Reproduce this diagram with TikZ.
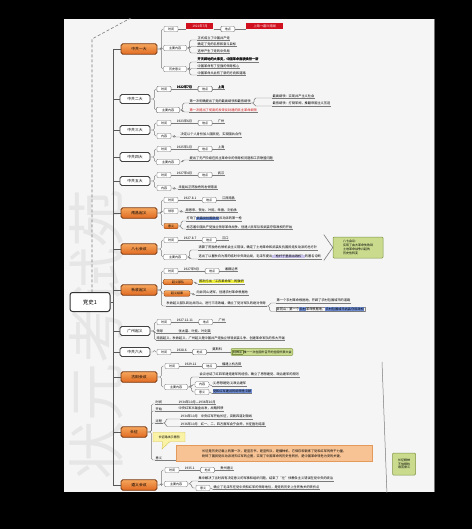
\documentclass[tikz,border=0pt]{standalone}
\usepackage{fontspec}
\newfontfamily\cjk{Noto Sans CJK SC}
\usetikzlibrary{positioning,calc,shapes.callouts}
\definecolor{pagec}{HTML}{F5F5F5}
\definecolor{linec}{HTML}{7A7A7A}
\definecolor{orangeT}{HTML}{F6A65C}
\definecolor{orangeB}{HTML}{E06A22}
\definecolor{orangeD}{HTML}{7A3A12}
\definecolor{redF}{HTML}{D0101E}
\definecolor{greenF}{HTML}{CADB8E}
\definecolor{greenD}{HTML}{7D9440}
\definecolor{hlyellow}{HTML}{EEEE3C}
\definecolor{hlblue}{HTML}{7090DA}
\definecolor{hlpurple}{HTML}{C9C2EE}
\definecolor{oboxF}{HTML}{F7C394}
\definecolor{oboxD}{HTML}{E39A5A}
\definecolor{callF}{HTML}{FAF3A6}
\definecolor{callD}{HTML}{D6C55A}
\definecolor{wmc}{HTML}{E6E6E6}
\definecolor{redtxt}{HTML}{D01010}
\newcommand\markblue[1]{{\setlength{\fboxsep}{0.3pt}\colorbox{hlblue}{#1}}}
\newcommand\markyellow[1]{{\setlength{\fboxsep}{0.3pt}\colorbox{hlyellow}{#1}}}
\newcommand\markpurple[1]{{\setlength{\fboxsep}{0.3pt}\colorbox{hlpurple}{#1}}}
\tikzset{
 conn/.style={draw=linec, line width=0.45pt, rounded corners=1.5pt},
 trunk/.style={draw=black!65, line width=0.9pt},
 root/.style={draw=black!80, line width=1pt, rounded corners=2.5pt, fill=white, minimum width=40pt, minimum height=19pt, font=\cjk\fontsize{5.5}{6}\selectfont},
 lone/.style={draw=black!75, line width=0.8pt, rounded corners=1.8pt, fill=white, minimum width=30pt, minimum height=9pt, inner sep=0.5pt, font=\cjk\fontsize{3.8}{4.2}\selectfont},
 lor/.style={draw=orangeD, line width=0.8pt, rounded corners=1.8pt, top color=orangeT, bottom color=orangeB, minimum width=36pt, minimum height=10.5pt, inner sep=0.5pt, font=\cjk\fontsize{3.8}{4.2}\selectfont},
 tag/.style={draw=black!55, line width=0.4pt, rounded corners=1.2pt, fill=white, minimum width=14pt, minimum height=5.5pt, inner sep=0.6pt, font=\cjk\fontsize{3}{3.4}\selectfont},
 otag/.style={tag, draw=orangeD, top color=orangeT, bottom color=orangeB},
 lf/.style={anchor=south west, inner sep=0.5pt, append after command={(\tikzlastnode.south west) edge[draw=linec, line width=0.45pt] (\tikzlastnode.south east)}},
 redb/.style={anchor=south west, fill=redF, text=white, inner sep=0.8pt, minimum height=6pt},
 greenb/.style={draw=greenD, line width=0.5pt, fill=greenF, rounded corners=1pt, inner sep=1.2pt, font=\cjk\fontsize{3}{3.8}\selectfont},
}
\newcommand\TimeRow[5]{%
 \node[tag] (#1a) at (#2,#3) {时间};
 \node[lf] (#1b) at ([xshift=5pt]#1a.east) {#4};
 \node[tag, anchor=west] (#1c) at ([xshift=5pt]#1b.south east) {地点};
 \node[lf] (#1d) at ([xshift=5pt]#1c.east) {#5};
 \draw[conn] (#1a.east) -- (#1b.south west) (#1b.south east) -- (#1c.west) (#1c.east) -- (#1d.south west);
}
\newcommand\Br[2]{\draw[conn] (#1.east) -- ++(4,0) |- (#2.west);}
\newcommand\BrP[2]{\draw[conn] (#1.east) -- ++(4,0) |- (#2.south west);}
\newcommand\BrL[2]{\draw[conn] (#1.east) -- ++(3,0) |- (#2.south west);}
\newcommand\BrS[2]{\draw[conn] (#1.south east) -- ++(3,0) |- (#2.south west);}
\begin{document}
\begin{tikzpicture}[x=1pt, y=-1pt, font=\cjk\fontsize{3.2}{3.8}\selectfont]
\useasboundingbox (0,0) rectangle (472,529);
\fill[black] (0,0) rectangle (472,529);
\fill[pagec] (64,19) rectangle (434,492);
\begin{scope}
\clip (64,19) rectangle (434,492);
% watermark
\node[rotate=90, text=wmc, font=\cjk\fontsize{58}{58}\selectfont] (wm) at (97,334) {状元考试苑};
% dashed guide
\coordinate (dA) at (92,39);
\coordinate (dB) at (140,13);
\coordinate (dC) at (92,292);
\draw[linec, densely dashed, line width=0.6pt] (dB) -- (dA) -- (dC);
% root and trunk
\node[root] (root) at (90,302) {党史1};
\coordinate (tTop) at (113,49);
\coordinate (tBot) at (113,485);
\draw[trunk] (tTop) -- (tBot);
\draw[trunk] (root.east) -- (root.east -| tTop);
% level one
\node[lor] (b1) at (139,49) {中共一大};
\node[lone] (b2) at (135,99) {中共二大};
\node[lone] (b3) at (135,130) {中共三大};
\node[lone] (b4) at (135,157) {中共四大};
\node[lone] (b5) at (135,181) {中共五大};
\node[lor] (b6) at (139,213) {南昌起义};
\node[lor] (b7) at (139,249) {八七会议};
\node[lor] (b8) at (139,290) {秋收起义};
\node[lone] (b9) at (135,331) {广州起义};
\node[lone] (b10) at (135,352) {中共六大};
\node[lor] (b11) at (139,377) {古田会议};
\node[lor, minimum width=26pt] (b12) at (134,432) {长征};
\node[lor] (b13) at (139,485) {遵义会议};
\foreach \b in {b1,b2,b3,b4,b5,b6,b7,b8,b9,b10,b11,b12,b13} \draw[trunk] (\b.west -| tTop) -- (\b.west);
% ---- B1
\node[tag] (t11) at (171,29) {时间};
\node[tag, minimum width=23pt] (t12) at (175,48) {主要内容};
\node[tag, minimum width=23pt] (t13) at (175,69) {历史意义};
\foreach \c in {t11,t12,t13} \Br{b1}{\c}
\node[redb, minimum width=27pt] (r11) at ([xshift=8pt]t11.east) {1921年7月};
\node[tag, anchor=west] (d11) at ([xshift=7pt]r11.south east) {地点};
\node[redb, minimum width=37pt] (r12) at ([xshift=11pt]d11.east) {上海→嘉兴南湖};
\draw[conn] (t11.east) -- (r11.south west) (r11.south east) -- (d11.west) (d11.east) -- (r12.south west);
\node[lf] (l121) at (197,40) {正式成立了中国共产党};
\node[lf] (l122) at (197,46.5) {确定了党的名称和奋斗目标};
\node[lf] (l123) at (197,53) {选举产生了党的中央局};
\foreach \c in {l121,l122,l123} \BrL{t12}{\c}
\node[lf] (l131) at (197,62) {开天辟地的大事变，中国革命面貌焕然一新};
\node[lf] (l132) at (197,68.5) {中国革命有了坚强的领导核心};
\node[lf] (l133) at (197,75) {中国革命从此有了新的方向和道路};
\foreach \c in {l131,l132,l133} \BrL{t13}{\c}
% ---- B2
\TimeRow{t21}{164}{89}{1922年7月}{上海}
\node[tag, minimum width=23pt] (t22) at (168,110) {主要内容};
\Br{b2}{t21a}
\Br{b2}{t22}
\node[lf] (l221) at (189,103) {第一次明确提出了党的最高纲领和最低纲领};
\node[lf, text=redtxt] (l222) at (189,112) {第一次提出了彻底的反帝反封建的民主革命纲领};
\BrL{t22}{l221}
\BrL{t22}{l222}
\node[lf] (l2211) at (272,98) {最高纲领：实现共产主义社会};
\node[lf] (l2212) at (272,106) {最低纲领：打倒军阀，推翻帝国主义压迫};
\BrS{l221}{l2211}
\BrS{l221}{l2212}
% ---- B3
\TimeRow{t31}{164}{123}{1923年6月}{广州}
\node[tag] (t32) at (164,136) {内容};
\Br{b3}{t31a}
\Br{b3}{t32}
\node[lf] (l321) at (180,137) {决定以个人身份加入国民党，实现国共合作};
\BrL{t32}{l321}
% ---- B4
\TimeRow{t41}{164}{149}{1925年1月}{上海}
\node[tag, minimum width=23pt] (t42) at (168,162) {主要内容};
\Br{b4}{t41a}
\Br{b4}{t42}
\node[lf] (l421) at (189,160) {提出了无产阶级在民主革命中的领导权问题和工农联盟问题};
\BrL{t42}{l421}
% ---- B5
\TimeRow{t51}{164}{175}{1927年4月}{武汉}
\node[tag] (t52) at (164,188) {内容};
\Br{b5}{t51a}
\Br{b5}{t52}
\node[lf] (l521) at (178,189) {未能纠正陈独秀的右倾错误};
\BrL{t52}{l521}
% ---- B6
\TimeRow{t61}{171}{200}{1927.8.1}{江西南昌}
\node[tag] (t62) at (171,211) {领导};
\node[otag] (t63) at (171,226) {意义};
\Br{b6}{t61a}
\Br{b6}{t62}
\Br{b6}{t63}
\node[lf] (l621) at (185,212) {周恩来、贺龙、叶挺、朱德、刘伯承};
\BrL{t62}{l621}
\node[lf] (l631) at (186,221) {打响了\markblue{武装反抗国民党}反动派的第一枪};
\node[lf] (l632) at (186,229) {标志着中国共产党独立领导革命战争、创建人民军队和武装夺取政权的开始};
\BrL{t63}{l631}
\BrL{t63}{l632}
% ---- B7
\TimeRow{t71}{171}{240}{1927.8.7}{汉口}
\node[tag, minimum width=23pt] (t72) at (175,257) {主要内容};
\Br{b7}{t71a}
\Br{b7}{t72}
\node[lf] (l721) at (198,250) {清算了陈独秀右倾机会主义错误，确定了土地革命和武装反抗国民党反动派的总方针};
\node[lf] (l722) at (198,259) {选出了以瞿秋白为首的临时中央政治局，毛泽东提出\markpurple{“枪杆子里面出政权”}的著名论断};
\BrL{t72}{l721}
\BrL{t72}{l722}
\node[greenb, align=left, minimum width=50pt, minimum height=21pt] (g7) at (358,247.5) {八七会议：\\实现了由大革命失败到\\土地革命战争兴起的\\历史性转变};
\draw[linec, line width=0.6pt] ($(g7.west)+(-9,-13)$) -- (g7.west) -- ($(g7.west)+(-9,13)$);
% ---- B8
\TimeRow{t81}{171}{271}{1927年9月}{湘赣边界}
\node[otag, minimum width=29pt] (t82) at (178,282) {起义部队};
\node[otag, minimum width=26pt] (t83) at (177,293.5) {起义结果};
\Br{b8}{t81a}
\Br{b8}{t82}
\Br{b8}{t83}
\node[lf] (l821) at (198,284) {\markyellow{首次打出“工农革命军”的旗帜}};
\BrL{t82}{l821}
\node[lf] (l831) at (196,295) {向井冈山进军，创建农村革命根据地};
\BrL{t83}{l831}
\node[lf] (l84) at (166,306) {秋收起义部队到达井冈山，进行三湾改编，确立了党对军队的绝对领导};
\BrP{b8}{l84}
\node[lf] (l841) at (276,303) {第一个农村革命根据地，开辟了农村包围城市的道路};
\node[lf, draw=black!45, line width=0.35pt] (l842) at (276,311.5) {井冈山：第一个\markblue{农村}革命根据地，\markblue{农村包围城市武装夺取政权}};
\BrS{l84}{l841}
\BrS{l84}{l842}
% ---- B9
\TimeRow{t91}{164}{322}{1927.12.11}{广州}
\Br{b9}{t91a}
\node[lf] (l92) at (156,333) {领导};
\node[lf] (l92b) at (178,333) {张太雷、叶挺、叶剑英};
\draw[conn] (l92.south east) -- (l92b.south west);
\node[lf] (l93) at (156,340) {南昌起义、秋收起义、广州起义是中国共产党独立领导武装斗争、创建革命军队的伟大开端};
\BrP{b9}{l92}
\BrP{b9}{l93}
% ---- B10
\TimeRow{t101}{164}{352}{1928.6}{莫斯科}
\Br{b10}{t101a}
\node[greenb, anchor=west] (g10) at ([xshift=8pt]t101d.south east) {{\setlength{\fboxsep}{0.5pt}\fcolorbox{greenD}{greenF}{特殊点}}\ 唯一一次在国外召开的全国代表大会};
\draw[conn] (t101d.south east) -- (g10.west);
% ---- B11
\TimeRow{t111}{172}{366}{1929.12}{福建上杭古田}
\node[tag, minimum width=23pt] (t112) at (176,387) {主要内容};
\Br{b11}{t111a}
\Br{b11}{t112}
\node[lf] (l1121) at (199,377) {会议总结了红四军建党建军的经验，确立了思想建党、政治建军的原则};
\node[tag] (t1122) at (202,384.5) {内容};
\node[tag] (t1123) at (202,392) {意义};
\BrL{t112}{l1121}
\Br{t112}{t1122}
\Br{t112}{t1123}
\node[lf] (l1122) at (212,386) {(1)思想建党(2)政治建军};
\node[lf] (l1123) at (212,393.5) {\markblue{党和红军建设的纲领性文献}};
\draw[conn] (t1122.east) -- (l1122.south west);
\draw[conn] (t1123.east) -- (l1123.south west);
% ---- B12
\node[lf] (l1201) at (155,404) {时间};
\node[lf] (l1201b) at (178,404) {1934年10月—1936年10月};
\draw[conn] (l1201.south east) -- (l1201b.south west);
\node[lf] (l1202) at (155,411) {开始};
\node[lf] (l1202b) at (178,411) {中央红军从瑞金出发，战略转移};
\draw[conn] (l1202.south east) -- (l1202b.south west);
\node[lf] (l1203) at (155,423) {过程};
\node[lf] (l1203a) at (180,419) {1934年10月　中央红军开始长征，突破四道封锁线};
\node[lf] (l1203b) at (180,426.5) {1936年10月　红一、二、四方面军会宁会师，长征胜利结束};
\BrS{l1203}{l1203a}
\BrS{l1203}{l1203b}
\coordinate (clp) at (162,449);
\node[rectangle callout, callout absolute pointer={(clp)}, fill=callF, draw=callD, line width=0.4pt, minimum width=32pt, minimum height=9pt, font=\cjk\fontsize{3}{3.4}\selectfont] (cl) at (169,437) {长征路线示意图};
\node[lf] (l1204) at (155,460) {意义};
\node[draw=oboxD, fill=oboxF, line width=0.4pt, minimum width=196pt, minimum height=16pt, inner sep=1.5pt, anchor=west, align=left, font=\cjk\fontsize{3.2}{5}\selectfont] (ob) at (176,453.5) {长征是历史记载上的第一次，是宣言书，是宣传队，是播种机。它保存和锻炼了党和红军的骨干力量，\\粉碎了国民党反动派消灭红军的企图，实现了中国革命的历史性转折，是中国革命转危为安的关键。};
\draw[conn] (l1204.south east) -- (l1204.south east -| ob.west);
\foreach \c in {l1201,l1202,l1203,l1204} \BrP{b12}{\c}
\coordinate (v1) at (382,362);
\coordinate (v2) at (387,495);
\draw[linec, line width=0.5pt] (v1) -- (v2);
\node[greenb, align=center, minimum width=23pt, minimum height=22pt] (g12) at (404,464) {长征精神\\不怕牺牲\\艰苦奋斗};
% ---- B13
\TimeRow{t131}{172}{470}{1935.1}{贵州遵义}
\node[tag, minimum width=23pt] (t132) at (176,484) {主要内容};
\Br{b13}{t131a}
\Br{b13}{t132}
\node[lf] (l1321) at (198,481) {集中解决了当时具有决定意义的军事和组织问题，结束了“左”倾教条主义错误在党中央的统治};
\node[tag] (t1322) at (203,488) {意义};
\BrL{t132}{l1321}
\Br{t132}{t1322}
\node[lf] (l1322) at (213,489.5) {确立了毛泽东在党中央和红军的领导地位，是党的历史上生死攸关的转折点};
\draw[conn] (t1322.east) -- (l1322.south west);
\end{scope}
\draw[black!55, line width=0.8pt] (434,19) -- (434,492);
\end{tikzpicture}
\end{document}
